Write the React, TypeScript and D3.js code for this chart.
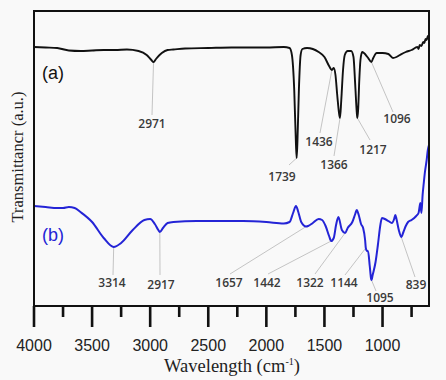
import { scaleLinear, line, curveMonotoneX } from "d3";

const W = 446
const H = 380

// spectrum (a): wavenumber / transmittance (a.u.)
const waveA = [4000, 3900, 3800, 3700, 3600, 3500, 3400, 3300, 3200, 3100, 3030, 2990, 2971, 2950, 2900, 2850, 2800, 2700, 2500, 2300, 2000, 1850, 1800, 1780, 1760, 1745, 1739, 1732, 1720, 1705, 1690, 1650, 1600, 1550, 1500, 1460, 1436, 1420, 1405, 1390, 1372, 1366, 1355, 1340, 1325, 1300, 1270, 1250, 1235, 1222, 1217, 1210, 1200, 1190, 1175, 1160, 1130, 1096, 1080, 1050, 1000, 950, 910, 880, 850, 800, 750, 700, 690, 680, 665, 650, 640, 630, 620, 610, 600]
const transA = [259, 258.5, 258, 255.5, 255, 255.5, 256, 256, 256.5, 255, 251, 246, 244, 247, 253, 256, 256.5, 257.5, 258, 258.5, 258.5, 259, 258, 251, 216, 161, 148, 166, 216, 251, 257, 258, 257, 254, 249, 240, 236, 238, 231, 211, 191, 188, 206, 236, 251, 255, 255, 249, 221, 194, 188, 196, 226, 246, 254, 253, 249, 244, 248, 253, 253, 252, 248, 249, 251, 254, 256, 259, 257, 261, 260, 264, 263, 267, 266, 270, 270]

// spectrum (b)
const waveB = [4000, 3900, 3800, 3750, 3700, 3650, 3600, 3500, 3400, 3314, 3250, 3150, 3050, 3000, 2960, 2930, 2917, 2890, 2850, 2800, 2600, 2400, 2200, 2000, 1850, 1800, 1770, 1745, 1725, 1700, 1657, 1640, 1600, 1550, 1520, 1490, 1460, 1442, 1420, 1400, 1380, 1350, 1322, 1300, 1260, 1235, 1222, 1205, 1185, 1167, 1150, 1144, 1133, 1125, 1110, 1098, 1095, 1085, 1060, 1040, 1020, 1005, 980, 950, 920, 900, 890, 880, 860, 839, 820, 800, 780, 750, 710, 690, 680, 675, 665, 655, 645, 635, 620, 610, 600]
const transB = [100, 99, 98, 98, 99, 98, 94, 84, 68, 59, 63, 76, 86, 87, 82, 76, 74, 78, 83, 84, 85, 85, 85, 84, 82.5, 84, 93, 100, 94, 84, 79.5, 80, 83, 87, 86, 80, 70, 65, 68, 81, 89, 76, 73, 78, 84, 92, 96, 91, 82, 78, 66, 58, 55, 55, 40, 27, 26, 31, 44, 61, 80, 88, 87, 85, 83, 87, 91, 87, 76, 69, 74, 80, 84, 86, 90, 93, 100, 103, 93, 111, 123, 134, 146, 156, 161]

const peaksA = [2971, 1739, 1436, 1366, 1217, 1096]
const peaksB = [3314, 2917, 1657, 1442, 1322, 1144, 1095, 839]

const majorTicks = [4000, 3500, 3000, 2500, 2000, 1500, 1000]
const minorTicks = [3750, 3250, 2750, 2250, 1750, 1250, 750]

// label placement (px): text x, text baseline, leader end
const layoutA = [
  { tx: 152, ty: 128, lx: 152, ly: 115 },
  { tx: 282, ty: 181, lx: 289, ly: 165 },
  { tx: 319, ty: 146, lx: 320, ly: 133 },
  { tx: 334, ty: 169, lx: 334, ly: 156 },
  { tx: 373, ty: 154, lx: 370, ly: 140 },
  { tx: 397, ty: 123, lx: 393, ly: 112 },
]
const layoutB = [
  { tx: 112, ty: 287, lx: 113, ly: 275 },
  { tx: 161, ty: 289, lx: 160, ly: 275 },
  { tx: 229, ty: 287, lx: 230, ly: 274 },
  { tx: 267, ty: 287, lx: 268, ly: 274 },
  { tx: 310, ty: 287, lx: 315, ly: 274 },
  { tx: 344, ty: 287, lx: 345, ly: 275 },
  { tx: 380, ty: 302, lx: 376, ly: 291 },
  { tx: 416, ty: 289, lx: 415, ly: 277 },
]

const left = 34
const right = 429
const top = 11
const bottom = 306

const valueAt = (waves: number[], vals: number[], w: number) => {
  for (let i = 0; i < waves.length - 1; i++) {
    if (w <= waves[i] && w >= waves[i + 1]) {
      const t = (waves[i] - w) / (waves[i] - waves[i + 1])
      return vals[i] + t * (vals[i + 1] - vals[i])
    }
  }
  return vals[vals.length - 1]
}

export default function App() {
  const x = scaleLinear().domain([4000, 600]).range([left, right])
  const y = scaleLinear().domain([0, 295]).range([bottom, top])

  const spectrum = line<number>()
    .x((d) => x(d))
    .curve(curveMonotoneX)

  const pathA = spectrum.y((_, i) => y(transA[i]))(waveA)
  const pathB = spectrum.y((_, i) => y(transB[i]))(waveB)

  const labelFont = { fontFamily: "'Open Sans', sans-serif", fontSize: 12, fontWeight: 600, fill: "#3a3a3a" }

  return (
    <svg width={W} height={H} style={{ position: "absolute", left: 0, top: 0 }}>
      <rect width={W} height={H} fill="#f9f9f9" />
      {/* leaders */}
      {peaksA.map((p, i) => (
        <line key={"la" + p} x1={x(p)} y1={y(valueAt(waveA, transA, p))} x2={layoutA[i].lx} y2={layoutA[i].ly} stroke="#bdbdbd" strokeWidth={0.9} />
      ))}
      {peaksB.map((p, i) => (
        <line key={"lb" + p} x1={x(p)} y1={y(valueAt(waveB, transB, p))} x2={layoutB[i].lx} y2={layoutB[i].ly} stroke="#bdbdbd" strokeWidth={0.9} />
      ))}
      <path d={pathA ?? ""} fill="none" stroke="#111" strokeWidth={1.9} />
      <path d={pathB ?? ""} fill="none" stroke="#2424d6" strokeWidth={2} />
      {peaksA.map((p, i) => (
        <text key={"ta" + p} x={layoutA[i].tx} y={layoutA[i].ty} textAnchor="middle" {...labelFont}>{p}</text>
      ))}
      {peaksB.map((p, i) => (
        <text key={"tb" + p} x={layoutB[i].tx} y={layoutB[i].ty} textAnchor="middle" {...labelFont}>{p}</text>
      ))}
      <text x={42} y={79} fontFamily="'Liberation Sans', Arial, sans-serif" fontSize={18} fill="#111">(a)</text>
      <text x={42} y={241} fontFamily="'Liberation Sans', Arial, sans-serif" fontSize={18} fill="#2424d6">(b)</text>
      {/* frame */}
      <rect x={left} y={top} width={right - left} height={bottom - top} fill="none" stroke="#111" strokeWidth={2} />
      {majorTicks.map((t) => (
        <line key={"M" + t} x1={x(t)} x2={x(t)} y1={bottom} y2={bottom + 21} stroke="#111" strokeWidth={2.6} />
      ))}
      {minorTicks.map((t) => (
        <line key={"m" + t} x1={x(t)} x2={x(t)} y1={bottom} y2={bottom + 11} stroke="#111" strokeWidth={2.6} />
      ))}
      {majorTicks.map((t) => (
        <text key={"tl" + t} x={x(t)} y={351} textAnchor="middle" fontFamily="'Liberation Sans', Arial, sans-serif" fontSize={16} fill="#222">{t}</text>
      ))}
      <text x={232} y={372} textAnchor="middle" fontFamily="'Liberation Serif', 'Times New Roman', serif" fontSize={18.5} fill="#222">
        Wavelength (cm<tspan fontSize={10} dy={-7}>-1</tspan><tspan dy={7}>)</tspan>
      </text>
      <text transform="translate(23,157) rotate(-90)" textAnchor="middle" fontFamily="'Liberation Serif', 'Times New Roman', serif" fontSize={16.5} fill="#222">
        Transmittancr (a.u.)
      </text>
    </svg>
  )
}
